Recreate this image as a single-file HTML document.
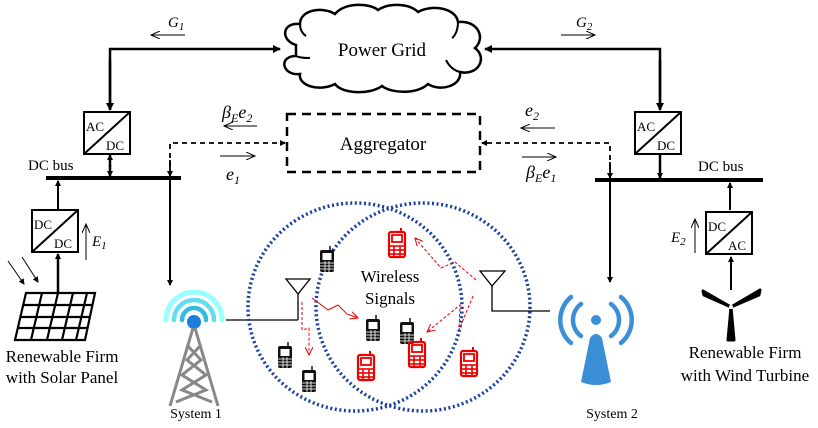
<!DOCTYPE html>
<html><head><style>
html,body{margin:0;padding:0;background:#fff;}
svg, svg text, svg tspan{font-family:"Liberation Serif","DejaVu Serif","Times New Roman",serif;}
</style></head><body>
<svg width="818" height="423" viewBox="0 0 818 423" xmlns="http://www.w3.org/2000/svg" font-family="Liberation Serif, DejaVu Serif, serif">
<defs>
<marker id="ah" markerWidth="8" markerHeight="8" refX="7" refY="4" orient="auto" markerUnits="userSpaceOnUse"><path d="M0,0 L8,4 L0,8 z" fill="#000"/></marker>
<marker id="ahs" markerWidth="6" markerHeight="6" refX="5" refY="3" orient="auto" markerUnits="userSpaceOnUse"><path d="M0,0 L6,3 L0,6 z" fill="#000"/></marker>
<marker id="thin" markerWidth="10" markerHeight="8" refX="9" refY="4" orient="auto" markerUnits="userSpaceOnUse"><path d="M0,0 L9,4 L0,8" fill="none" stroke="#000" stroke-width="1"/></marker>
<marker id="red" markerWidth="9" markerHeight="8" refX="8" refY="4" orient="auto" markerUnits="userSpaceOnUse"><path d="M0,0 L8,4 L0,8" fill="none" stroke="#e00" stroke-width="1"/></marker>
<g id="ph"><rect x="-7" y="-11" width="14" height="22" rx="2" fill="#111"/><line x1="3" y1="-11" x2="3" y2="-15" stroke="#111" stroke-width="1.5"/><rect x="-4.5" y="-8" width="9" height="7" fill="#fff"/><g stroke="#fff" stroke-width="0.8"><line x1="-7" y1="2" x2="7" y2="2"/><line x1="-7" y1="5" x2="7" y2="5"/><line x1="-7" y1="8" x2="7" y2="8"/><line x1="-2" y1="0" x2="-2" y2="11"/><line x1="2" y1="0" x2="2" y2="11"/></g></g>
<g id="rph"><rect x="-8" y="-12" width="16" height="25" rx="2" fill="none" stroke="#e00" stroke-width="2.2"/><line x1="4" y1="-12" x2="4" y2="-16" stroke="#e00" stroke-width="2"/><rect x="-5" y="-9" width="10" height="7" fill="#fff" stroke="#e00" stroke-width="1.8"/><g stroke="#e00" stroke-width="1.6"><line x1="-8" y1="2" x2="8" y2="2"/><line x1="-8" y1="6" x2="8" y2="6"/><line x1="-8" y1="10" x2="8" y2="10"/><line x1="-3" y1="2" x2="-3" y2="13"/><line x1="3" y1="2" x2="3" y2="13"/></g></g>
</defs>

<path d="M296,45 C280,40 282,22 300,24 C300,10 322,6 335,14 C345,2 370,3 378,10 C390,2 410,4 418,12 C432,4 456,8 458,22 C478,20 486,38 475,48 C488,58 478,76 460,72 C462,86 440,92 428,84 C418,94 392,94 382,86 C370,95 342,94 335,84 C320,92 298,86 300,74 C282,76 278,56 296,56 Z" fill="#fff" stroke="#000" stroke-width="2.5"/>
<path d="M300,24 C300,30 303,34 306,36 M458,22 C458,30 455,36 452,38 M460,72 C452,70 448,64 446,60 M296,56 C300,58 305,58 310,58" fill="none" stroke="#000" stroke-width="2"/>
<text x="382" y="56" font-size="19" text-anchor="middle">Power Grid</text>

<polyline points="110,110 110,49 280,49" fill="none" stroke="#000" stroke-width="2.5" marker-end="url(#ah)"/>
<line x1="110" y1="60" x2="110" y2="110" stroke="#000" stroke-width="2.5" marker-end="url(#ah)"/>
<polyline points="660,110 660,49 485,49" fill="none" stroke="#000" stroke-width="2.5" marker-end="url(#ah)"/>
<line x1="660" y1="60" x2="660" y2="110" stroke="#000" stroke-width="2.5" marker-end="url(#ah)"/>
<text x="168" y="27" font-size="15" font-style="italic">G<tspan font-size="11" dy="3">1</tspan></text>
<line x1="185" y1="35" x2="151" y2="35" stroke="#000" stroke-width="1" marker-end="url(#thin)"/>
<text x="576" y="27" font-size="15" font-style="italic">G<tspan font-size="11" dy="3">2</tspan></text>
<line x1="561" y1="35" x2="595" y2="35" stroke="#000" stroke-width="1" marker-end="url(#thin)"/>

<rect x="84" y="112" width="46" height="42" fill="#fff" stroke="#000" stroke-width="2"/>
<line x1="84" y1="154" x2="130" y2="112" stroke="#000" stroke-width="2"/>
<text x="86" y="131" font-size="13">AC</text><text x="106" y="150" font-size="13">DC</text>
<rect x="635" y="112" width="46" height="42" fill="#fff" stroke="#000" stroke-width="2"/>
<line x1="635" y1="154" x2="681" y2="112" stroke="#000" stroke-width="2"/>
<text x="637" y="131" font-size="13">AC</text><text x="657" y="150" font-size="13">DC</text>

<line x1="46" y1="178" x2="181" y2="178" stroke="#000" stroke-width="4"/>
<line x1="595" y1="180" x2="763" y2="180" stroke="#000" stroke-width="4"/>
<text x="28" y="170" font-size="15">DC bus</text>
<text x="698" y="171" font-size="15">DC bus</text>
<line x1="110" y1="165" x2="110" y2="176" stroke="#000" stroke-width="2.5" marker-end="url(#ahs)"/>
<line x1="110" y1="167" x2="110" y2="155" stroke="#000" stroke-width="2.5" marker-end="url(#ahs)"/>
<line x1="660" y1="154" x2="660" y2="178" stroke="#000" stroke-width="2.5" marker-end="url(#ahs)"/>

<rect x="287" y="114" width="193" height="58" fill="none" stroke="#000" stroke-width="2.5" stroke-dasharray="9,6"/>
<text x="383" y="150" font-size="19" text-anchor="middle">Aggregator</text>
<polyline points="170,176 170,143 285,143" fill="none" stroke="#000" stroke-width="1.8" stroke-dasharray="5,4" marker-end="url(#ahs)"/>
<line x1="170" y1="160" x2="170" y2="176" stroke="#000" stroke-width="1.8" marker-end="url(#ahs)"/>
<polyline points="610,178 610,143 482,143" fill="none" stroke="#000" stroke-width="1.8" stroke-dasharray="5,4" marker-end="url(#ahs)"/>
<line x1="610" y1="162" x2="610" y2="178" stroke="#000" stroke-width="1.8" marker-end="url(#ahs)"/>

<text x="222" y="118" font-size="18" font-style="italic">β<tspan font-size="12" dy="4">E</tspan><tspan dy="-4">e</tspan><tspan font-size="12" dy="4">2</tspan></text>
<line x1="257" y1="126" x2="224" y2="126" stroke="#000" stroke-width="1" marker-end="url(#thin)"/>
<line x1="220" y1="156" x2="255" y2="156" stroke="#000" stroke-width="1" marker-end="url(#thin)"/>
<text x="226" y="180" font-size="18" font-style="italic">e<tspan font-size="12" dy="4">1</tspan></text>
<text x="525" y="116" font-size="18" font-style="italic">e<tspan font-size="12" dy="4">2</tspan></text>
<line x1="555" y1="128" x2="521" y2="128" stroke="#000" stroke-width="1" marker-end="url(#thin)"/>
<line x1="522" y1="157" x2="556" y2="157" stroke="#000" stroke-width="1" marker-end="url(#thin)"/>
<text x="526" y="178" font-size="18" font-style="italic">β<tspan font-size="12" dy="4">E</tspan><tspan dy="-4">e</tspan><tspan font-size="12" dy="4">1</tspan></text>

<line x1="58" y1="210" x2="58" y2="181" stroke="#000" stroke-width="2" marker-end="url(#ahs)"/>
<rect x="32" y="210" width="46" height="42" fill="#fff" stroke="#000" stroke-width="2"/>
<line x1="32" y1="252" x2="78" y2="210" stroke="#000" stroke-width="2"/>
<text x="34" y="229" font-size="13">DC</text><text x="54" y="248" font-size="13">DC</text>
<line x1="86" y1="260" x2="86" y2="224" stroke="#000" stroke-width="1" marker-end="url(#thin)"/>
<text x="92" y="246" font-size="15" font-style="italic">E<tspan font-size="11" dy="3">1</tspan></text>
<line x1="58" y1="292" x2="58" y2="254" stroke="#000" stroke-width="2.5" marker-end="url(#ahs)"/>
<line x1="8" y1="261" x2="24" y2="284" stroke="#000" stroke-width="1" marker-end="url(#ahs)"/>
<line x1="22" y1="257" x2="38" y2="282" stroke="#000" stroke-width="1" marker-end="url(#ahs)"/>
<g stroke="#000" stroke-width="2.2" fill="none">
<path d="M26,293 L95,293 L85,340 L15,340 Z"/>
<line x1="23.5" y1="305" x2="92.5" y2="305"/><line x1="21" y1="317" x2="90" y2="317"/><line x1="18" y1="328" x2="88" y2="328"/>
<line x1="42" y1="293" x2="31" y2="340"/><line x1="58" y1="293" x2="47" y2="340"/><line x1="73" y1="293" x2="62" y2="340"/><line x1="87" y1="293" x2="76" y2="340"/>
</g>
<text x="62" y="362" font-size="17" text-anchor="middle">Renewable Firm</text>
<text x="62" y="383" font-size="17" text-anchor="middle">with Solar Panel</text>

<line x1="170" y1="180" x2="170" y2="285" stroke="#000" stroke-width="2" marker-end="url(#ahs)"/>
<g fill="none" stroke-linecap="round">
<path d="M166,320 A28,28 0 0 1 222,320" stroke="#9ff" stroke-width="5"/>
<path d="M174,320 A20,20 0 0 1 214,320" stroke="#6de" stroke-width="4.5"/>
<path d="M182,320 A12,12 0 0 1 206,320" stroke="#3bd" stroke-width="4.5"/>
</g>
<circle cx="194" cy="322" r="7" fill="#1a7ee0"/>
<g stroke="#888" stroke-width="3" fill="none">
<line x1="193" y1="328" x2="170" y2="406"/><line x1="195" y1="328" x2="218" y2="406"/>
<path d="M187,345 L201,360 L182,375 L206,390 L176,402 M201,345 L187,360 L206,375 L182,390 L212,402"/>
</g>
<text x="196" y="418" font-size="14" text-anchor="middle">System 1</text>
<line x1="226" y1="320" x2="298" y2="320" stroke="#000" stroke-width="1.2"/>

<ellipse cx="355" cy="307" rx="107" ry="104" fill="none" stroke="#1a3fa0" stroke-width="3.5" stroke-dasharray="2,2.6"/>
<ellipse cx="423" cy="307" rx="107" ry="104" fill="none" stroke="#1a3fa0" stroke-width="3.5" stroke-dasharray="2,2.6"/>

<path d="M286,279 L310,279 L298,294 Z" fill="none" stroke="#000" stroke-width="1.3"/>
<line x1="298" y1="294" x2="298" y2="320" stroke="#000" stroke-width="1.3"/>
<path d="M480,271 L505,271 L492,286 Z" fill="none" stroke="#000" stroke-width="1.3"/>
<polyline points="492,286 492,311 550,311" fill="none" stroke="#000" stroke-width="1.3"/>

<text x="390" y="282" font-size="17" text-anchor="middle">Wireless</text>
<text x="390" y="304" font-size="17" text-anchor="middle">Signals</text>

<use href="#ph" x="327" y="261"/><use href="#ph" x="285" y="357"/><use href="#ph" x="309" y="381"/><use href="#ph" x="373" y="330"/><use href="#ph" x="407" y="333"/>
<use href="#rph" x="397" y="244"/><use href="#rph" x="366" y="367"/><use href="#rph" x="417" y="354"/><use href="#rph" x="469" y="363"/>

<g fill="none" stroke="#e00" stroke-width="1">
<polyline points="312,298 328,310 338,305 347,314 358,318" marker-end="url(#red)"/>
<polyline points="302,302 302,330 309,328 309,355" stroke-dasharray="3,2" marker-end="url(#red)"/>
<polyline points="476,280 455,262 441,268 415,238" stroke-dasharray="3,2" marker-end="url(#red)"/>
<polyline points="473,296 459,330 460,305 427,332" stroke-dasharray="3,2" marker-end="url(#red)"/>
</g>

<line x1="610" y1="182" x2="610" y2="282" stroke="#000" stroke-width="2" marker-end="url(#ahs)"/>
<g fill="none" stroke="#3a8fd6" stroke-width="4.5" stroke-linecap="round">
<path d="M571,297 A30,30 0 0 0 571,343"/><path d="M581,304 A20,20 0 0 0 581,336"/>
<path d="M621,297 A30,30 0 0 1 621,343"/><path d="M611,304 A20,20 0 0 1 611,336"/>
</g>
<circle cx="596" cy="320" r="5" fill="#3a8fd6"/>
<path d="M590,338 Q596,330 602,338 L611,382 Q596,388 581,382 Z" fill="#3a8fd6"/>
<text x="612" y="418" font-size="14" text-anchor="middle">System 2</text>

<line x1="730" y1="210" x2="730" y2="183" stroke="#000" stroke-width="2" marker-end="url(#ahs)"/>
<rect x="706" y="212" width="46" height="42" fill="#fff" stroke="#000" stroke-width="2"/>
<line x1="706" y1="254" x2="752" y2="212" stroke="#000" stroke-width="2"/>
<text x="708" y="231" font-size="13">DC</text><text x="728" y="250" font-size="13">AC</text>
<line x1="695" y1="253" x2="695" y2="219" stroke="#000" stroke-width="1" marker-end="url(#thin)"/>
<text x="671" y="242" font-size="15" font-style="italic">E<tspan font-size="11" dy="3">2</tspan></text>
<line x1="731" y1="290" x2="731" y2="257" stroke="#000" stroke-width="2" marker-end="url(#ahs)"/>
<path d="M731,307 L703,291 L704,295 Z M731,307 L760,290 L759,295 Z M731,307 L728,340 L734,340 Z" fill="#000" stroke="#000" stroke-width="3" stroke-linejoin="round"/>
<circle cx="731" cy="307" r="2" fill="#fff"/>
<text x="745" y="358" font-size="17" text-anchor="middle">Renewable Firm</text>
<text x="745" y="381" font-size="17" text-anchor="middle">with Wind Turbine</text>
</svg>
</body></html>
